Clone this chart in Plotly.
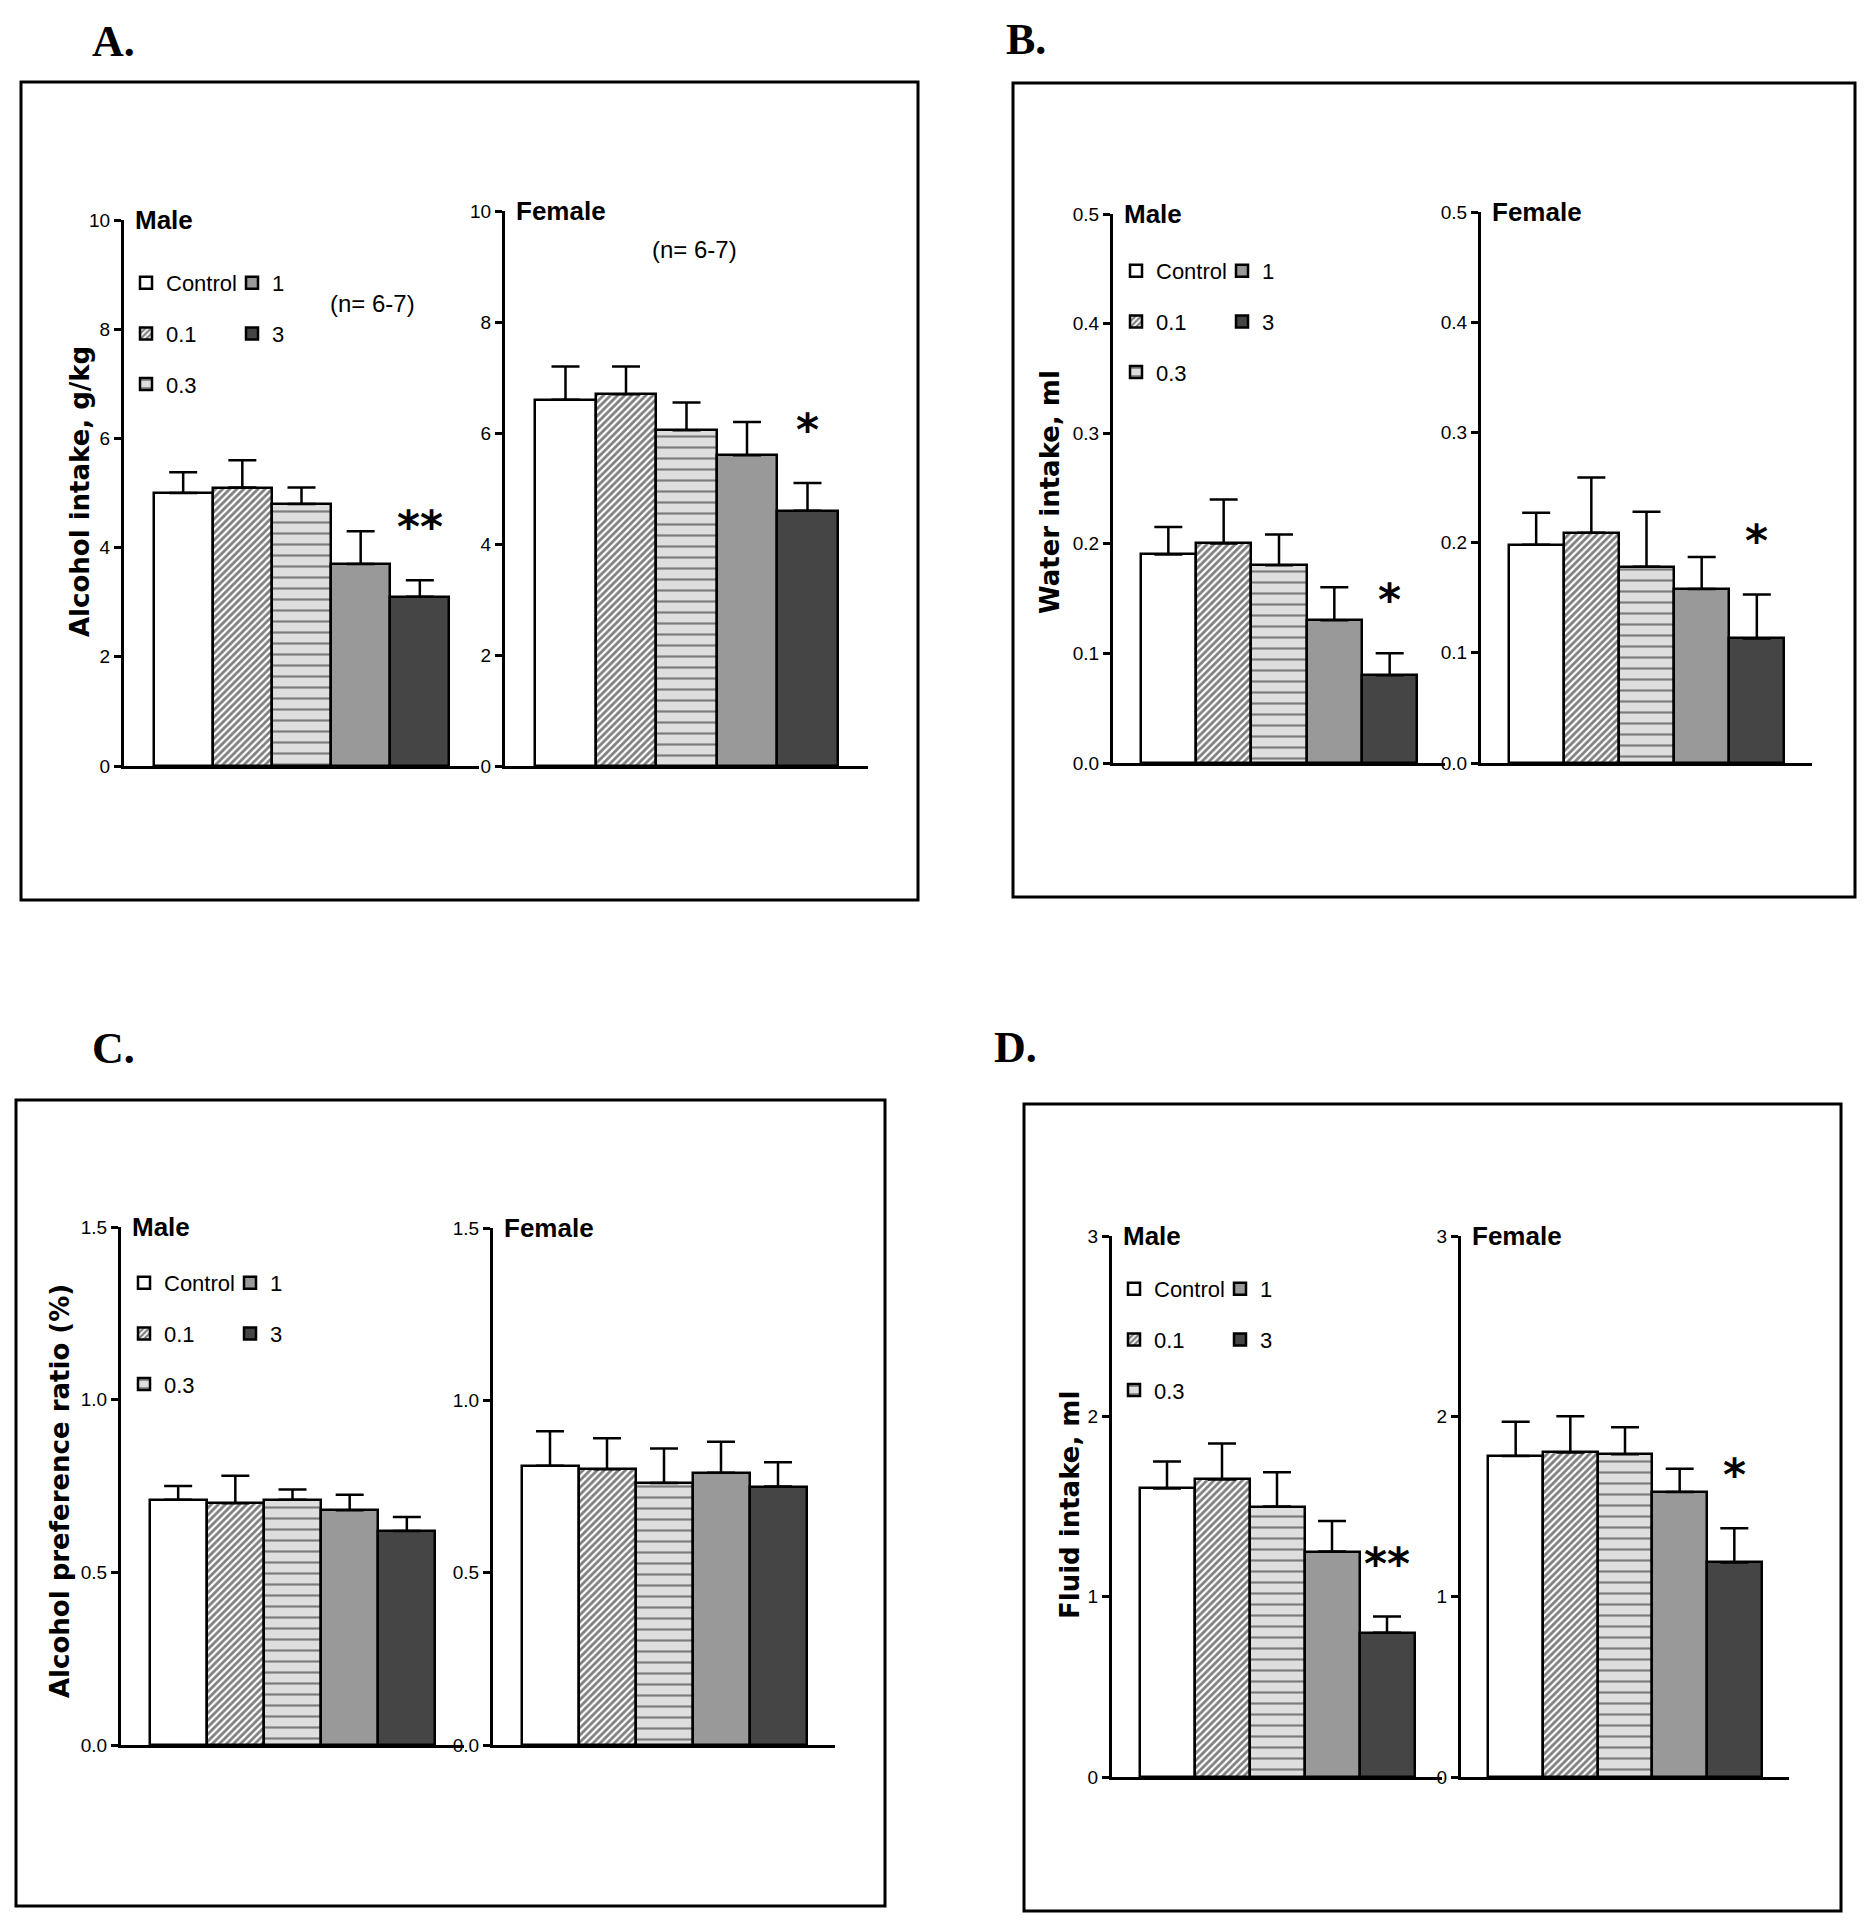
import plotly.graph_objects as go

W, H = 1865, 1929
M = 8  # page body margin of the browser

# ---------------- data ----------------
groups = ["Control", "0.1", "0.3", "1", "3"]

A_male_mean = [5.0, 5.1, 4.8, 3.7, 3.1]
A_male_sem = [0.38, 0.5, 0.3, 0.6, 0.3]
A_female_mean = [6.6, 6.7, 6.05, 5.6, 4.6]
A_female_sem = [0.6, 0.5, 0.5, 0.6, 0.5]

B_male_mean = [0.19, 0.20, 0.18, 0.13, 0.08]
B_male_sem = [0.025, 0.04, 0.028, 0.03, 0.02]
B_female_mean = [0.198, 0.209, 0.178, 0.158, 0.113]
B_female_sem = [0.029, 0.05, 0.05, 0.029, 0.04]

C_male_mean = [0.71, 0.70, 0.71, 0.68, 0.62]
C_male_sem = [0.04, 0.08, 0.03, 0.045, 0.04]
C_female_mean = [0.81, 0.80, 0.76, 0.79, 0.75]
C_female_sem = [0.10, 0.09, 0.10, 0.09, 0.07]

D_male_mean = [1.60, 1.65, 1.50, 1.25, 0.80]
D_male_sem = [0.15, 0.20, 0.19, 0.17, 0.09]
D_female_mean = [1.78, 1.80, 1.79, 1.58, 1.19]
D_female_sem = [0.19, 0.20, 0.15, 0.13, 0.19]

# significance marks on the highest-dose group ("3")
sig_group = "3"
A_sig = {"male": "**", "female": "*"}
B_sig = {"male": "*", "female": "*"}
C_sig = {}
D_sig = {"male": "**", "female": "*"}

y_titles = {"A": "Alcohol intake, g/kg", "B": "Water intake, ml",
            "C": "Alcohol preference ratio (%)", "D": "Fluid intake, ml"}
n_label = "(n= 6-7)"

# ---------------- styles ----------------
SANS = "Liberation Sans, Arial, sans-serif"
BOLDWIDE = "DejaVu Sans, Verdana, sans-serif"
SERIF = "Liberation Serif, Times New Roman, serif"

group_style = {
    "Control": dict(color="white"),
    "0.1": dict(color="white", pattern=dict(shape="/", fgcolor="black", bgcolor="white", size=5, solidity=0.55)),
    "0.3": dict(color="#dedede", pattern=dict(shape="-", fgcolor="#1a1a1a", bgcolor="#dedede", size=11, solidity=0.2)),
    "1": dict(color="#999999"),
    "3": dict(color="#454545"),
}

FW, FH = W - 2 * M, H - 2 * M


def px(x):
    return (x - M) / FW


def py(y):
    return 1 - (y - M) / FH


# pixel layout of each panel: box, axes (x0, x1, y_zero, y_top), legend anchors
panels = [
    dict(key="A", male=(A_male_mean, A_male_sem), female=(A_female_mean, A_female_sem), sig=A_sig,
         yr=[0, 10], dtick=2, fmt="d",
         box=(21, 82, 918, 900), letter=(90, 42),
         ax_m=(124, 479, 766, 220), ax_f=(505, 868, 766, 211),
         title_xy=(80, 492), leg1=(146, 284), leg2=(252, 284),
         nlabels=[(372, 303), (694, 249)]),
    dict(key="B", male=(B_male_mean, B_male_sem), female=(B_female_mean, B_female_sem), sig=B_sig,
         yr=[0, 0.5], dtick=0.1, fmt=".1f",
         box=(1013, 83, 1855, 897), letter=(1004, 40),
         ax_m=(1113, 1445, 763, 214), ax_f=(1481, 1812, 763, 212),
         title_xy=(1050, 492), leg1=(1136, 272), leg2=(1242, 272),
         nlabels=[]),
    dict(key="C", male=(C_male_mean, C_male_sem), female=(C_female_mean, C_female_sem), sig=C_sig,
         yr=[0, 1.5], dtick=0.5, fmt=".1f",
         box=(16, 1100, 885, 1906), letter=(90, 1048),
         ax_m=(121, 464, 1745, 1227), ax_f=(493, 835, 1745, 1228),
         title_xy=(60, 1491), leg1=(144, 1284), leg2=(250, 1284),
         nlabels=[]),
    dict(key="D", male=(D_male_mean, D_male_sem), female=(D_female_mean, D_female_sem), sig=D_sig,
         yr=[0, 3], dtick=1, fmt="d",
         box=(1024, 1104, 1841, 1911), letter=(992, 1047),
         ax_m=(1112, 1442, 1777, 1236), ax_f=(1461, 1789, 1777, 1236),
         title_xy=(1070, 1505), leg1=(1134, 1290), leg2=(1240, 1290),
         nlabels=[]),
]

fig = go.Figure()
layout = dict(width=FW, height=FH, margin=dict(l=0, r=0, t=0, b=0, pad=0, autoexpand=False),
              paper_bgcolor="white", plot_bgcolor="rgba(0,0,0,0)",
              barmode="overlay", bargap=0, shapes=[], annotations=[])

LEG_FONT = 22
LEG_GAP = 19
LEG_TOP = 22

ax_i = 0
leg_i = 0
for p in panels:
    x0, y0, x1, y1 = p["box"]
    layout["shapes"].append(dict(type="rect", xref="paper", yref="paper",
                                 x0=px(x0), x1=px(x1), y0=py(y1), y1=py(y0),
                                 line=dict(color="black", width=3), fillcolor="rgba(0,0,0,0)"))
    layout["annotations"].append(dict(text="<b>%s.</b>" % p["key"], xref="paper", yref="paper",
                                      x=px(p["letter"][0]), y=py(p["letter"][1]),
                                      xanchor="left", yanchor="middle", showarrow=False,
                                      font=dict(family=SERIF, size=44, color="black")))
    layout["annotations"].append(dict(text="<b>%s</b>" % y_titles[p["key"]], xref="paper", yref="paper",
                                      x=px(p["title_xy"][0]), y=py(p["title_xy"][1]), textangle=-90,
                                      xanchor="center", yanchor="middle", showarrow=False,
                                      font=dict(family=BOLDWIDE, size=26, color="black")))
    leg_names = []
    for (lx, ly) in (p["leg1"], p["leg2"]):
        leg_i += 1
        lname = "legend" if leg_i == 1 else "legend%d" % leg_i
        leg_names.append(lname)
        layout[lname] = dict(x=px(lx - 20), y=py(ly - LEG_TOP), xanchor="left", yanchor="top",
                             bgcolor="rgba(0,0,0,0)", borderwidth=0, traceorder="grouped",
                             tracegroupgap=LEG_GAP, itemclick=False, itemdoubleclick=False,
                             font=dict(family=SANS, size=LEG_FONT, color="black"))

    for sex, ax, (means, sems) in (("male", p["ax_m"], p["male"]), ("female", p["ax_f"], p["female"])):
        ax_i += 1
        xa = "xaxis" if ax_i == 1 else "xaxis%d" % ax_i
        ya = "yaxis" if ax_i == 1 else "yaxis%d" % ax_i
        xr = "x" if ax_i == 1 else "x%d" % ax_i
        yr = "y" if ax_i == 1 else "y%d" % ax_i
        ax_x0, ax_x1, ax_yz, ax_yt = ax
        layout[xa] = dict(domain=[px(ax_x0), px(ax_x1)], anchor=yr, type="category",
                          categoryorder="array", categoryarray=groups, range=[-1, 5],
                          showticklabels=False, ticks="", showgrid=False, zeroline=False,
                          showline=True, linecolor="black", linewidth=3, fixedrange=True)
        layout[ya] = dict(domain=[py(ax_yz), py(ax_yt)], anchor=xr, range=p["yr"], dtick=p["dtick"],
                          tick0=0, tickformat=p["fmt"], showgrid=False, zeroline=False,
                          showline=True, linecolor="black", linewidth=3, ticks="outside",
                          ticklen=7, tickwidth=2.5, tickcolor="black",
                          tickfont=dict(family=SANS, size=19, color="black"), fixedrange=True)
        for gi, g in enumerate(groups):
            show = sex == "male"
            lname = leg_names[0] if gi < 3 else leg_names[1]
            fig.add_trace(go.Bar(
                x=[g], y=[means[gi]], width=1, xaxis=xr, yaxis=yr,
                name=g, legend=lname, legendgroup="%s_%s" % (p["key"], g), showlegend=show,
                marker=dict(line=dict(color="black", width=2.5), **group_style[g]),
                error_y=dict(type="data", symmetric=False, array=[sems[gi]], arrayminus=[0],
                             color="black", thickness=2.5, width=14),
            ))
        layout["annotations"].append(dict(text="<b>%s</b>" % sex.capitalize(), xref="paper", yref="paper",
                                          x=px(ax_x0 + 9), y=py(ax_yt), xanchor="left", yanchor="middle",
                                          showarrow=False, font=dict(family=SANS, size=26, color="black")))
        if sex in p["sig"]:
            gi = groups.index(sig_group)
            layout["annotations"].append(dict(text="<b>%s</b>" % p["sig"][sex], xref=xr, yref=yr,
                                              x=gi, y=means[gi] + sems[gi], xanchor="center",
                                              yanchor="bottom", yshift=26, showarrow=False,
                                              font=dict(family=BOLDWIDE, size=44, color="black")))
    for (nx, ny) in p["nlabels"]:
        layout["annotations"].append(dict(text=n_label, xref="paper", yref="paper",
                                          x=px(nx), y=py(ny), xanchor="center", yanchor="middle",
                                          showarrow=False, font=dict(family=SANS, size=24, color="black")))

fig.update_layout(**layout)
fig.write_html("out.html")
